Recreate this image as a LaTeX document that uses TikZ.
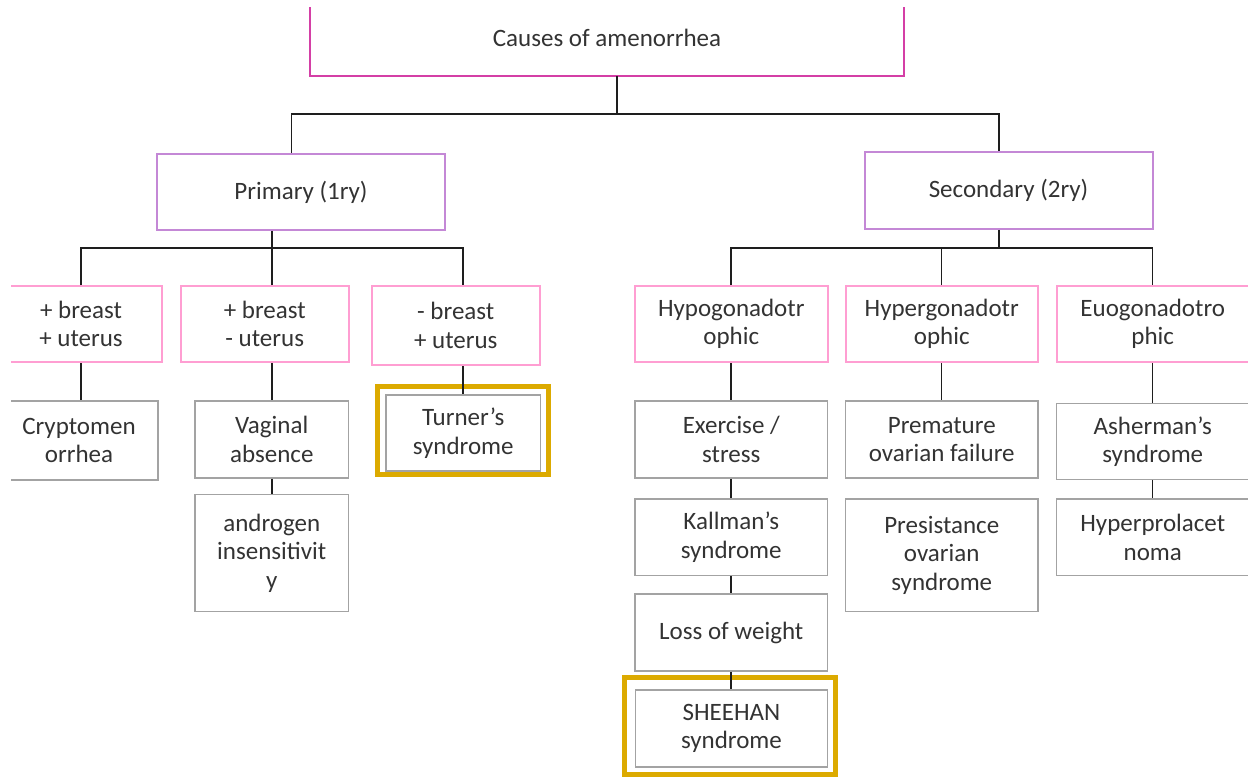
\documentclass[tikz,border=0pt]{standalone}
\usepackage{fontspec}
\setmainfont{Carlito}
\definecolor{txt}{HTML}{333333}
\definecolor{magc}{HTML}{D43FA6}
\definecolor{violc}{HTML}{C488D6}
\definecolor{pinkc}{HTML}{FF9ED2}
\definecolor{greyc}{HTML}{A3A3A3}
\definecolor{goldc}{HTML}{DCAA00}
\definecolor{linec}{HTML}{1E1E1E}
\newcommand{\fsz}{\fontsize{25}{28.5}\selectfont}
\newcommand{\bx}[7]{\node[#2, minimum width={(#5-#3)*1pt}, minimum height={(#6-#4)*1pt}] (#1) at ({(#3+#5)/2},{(#4+#6)/2}) {#7};}
\tikzset{
  base/.style={rectangle, inner sep=0pt, align=center, text=txt, font=\fsz},
  greybox/.style={base, draw=greyc, line width=1.5pt},
  pinkbox/.style={base, draw=pinkc, line width=2pt},
  violbox/.style={base, draw=violc, line width=2pt},
  topbox/.style={base},
  goldbox/.style={rectangle, draw=goldc, line width=5pt, inner sep=0pt},
  conn/.style={draw=linec, line width=1.9pt},
}
\begin{document}
\begin{tikzpicture}[x=1pt,y=-1pt]
\useasboundingbox (0,0) rectangle (1248,778);
\clip (11,8) rectangle (1248,778);
% top
\bx{top}{topbox}{310}{0}{904}{76}{Causes of amenorrhea}
\draw[magc, line width=2pt] (top.north west) -- (top.south west) -- (top.south east) -- (top.north east);
% level 1
\bx{prim}{violbox}{157}{154}{445}{230}{Primary (1ry)}
\bx{sec}{violbox}{864.5}{152}{1152.5}{229}{Secondary (2ry)}
% level 2
\bx{b1}{pinkbox}{0}{286}{162}{362}{+ breast\\+ uterus}
\bx{b2}{pinkbox}{180.5}{286}{349}{362}{+ breast\\- uterus}
\bx{b3}{pinkbox}{371.5}{286}{540}{365}{- breast\\+ uterus}
\bx{hypo}{pinkbox}{635}{286}{827.5}{362}{Hypogonadotr\\ophic}
\bx{hyper}{pinkbox}{845.5}{286}{1038}{362}{Hypergonadotr\\ophic}
\bx{eu}{pinkbox}{1056.5}{286}{1249}{362}{Euogonadotro\\phic}
% level 3 left
\bx{crypto}{greybox}{0}{401}{158}{480}{Cryptomen\\orrhea}
\bx{vag}{greybox}{195}{401}{348.5}{478}{Vaginal\\absence}
\bx{andro}{greybox}{195}{494.5}{348.5}{611.5}{androgen\\insensitivit\\y}
\bx{turner}{greybox}{386}{395}{540.5}{471}{Turner’s\\syndrome}
\bx{turnerG}{goldbox}{377.8}{386.8}{548.2}{474.8}{}
% level 3 right
\bx{exer}{greybox}{635}{401}{827.5}{478}{Exercise /\\stress}
\bx{kall}{greybox}{635}{499}{827.5}{575.5}{Kallman’s\\syndrome}
\bx{loss}{greybox}{635}{594}{827.5}{671}{Loss of weight}
\bx{sheehan}{greybox}{635.5}{690}{827.5}{767}{SHEEHAN\\syndrome}
\bx{sheehanG}{goldbox}{624.2}{677.2}{835.8}{774.2}{}
\bx{prem}{greybox}{845.5}{401}{1038}{478}{Premature\\ovarian failure}
\bx{pres}{greybox}{845.5}{499}{1038}{611.5}{Presistance\\ovarian\\syndrome}
\bx{asher}{greybox}{1056.5}{403.5}{1249}{479.5}{Asherman’s\\syndrome}
\bx{hyperp}{greybox}{1056.5}{499}{1249}{575.5}{Hyperprolacet\\noma}
% junction coordinates
\coordinate (j0) at (617,114);
\coordinate (cP) at (291.5,114);
\coordinate (cS) at (999,114);
\coordinate (cPd) at (272,248);
\coordinate (cA) at (81,248);
\coordinate (cC) at (463,248);
\coordinate (cSd) at (999,248);
\coordinate (cH) at (730.6,248);
\coordinate (cR) at (941.5,248);
\coordinate (cE) at (1152.5,248);
% connectors
\draw[conn] (top.south -| j0) -- (j0);
\draw[conn] (prim.north -| cP) -- (cP) -- (cS) -- (sec.north -| cS);
\draw[conn] (prim.south -| cPd) -- (cPd);
\draw[conn] (b1.north -| cA) -- (cA) -- (cC) -- (b3.north -| cC);
\draw[conn] (b2.north -| cPd) -- (cPd);
\draw[conn] (sec.south -| cSd) -- (cSd);
\draw[conn] (hypo.north -| cH) -- (cH) -- (cE) -- (eu.north -| cE);
\draw[conn] (hyper.north -| cR) -- (cR);
\draw[conn] (b1.south -| cA) -- (crypto.north -| cA);
\draw[conn] (b2.south -| cPd) -- (vag.north -| cPd);
\draw[conn] (vag.south -| cPd) -- (andro.north -| cPd);
\draw[conn] (b3.south -| cC) -- (turner.north -| cC);
\draw[conn] (hypo.south -| cH) -- (exer.north -| cH);
\draw[conn] (exer.south -| cH) -- (kall.north -| cH);
\draw[conn] (kall.south -| cH) -- (loss.north -| cH);
\draw[conn] (loss.south -| cH) -- (sheehan.north -| cH);
\draw[conn] (hyper.south -| cR) -- (prem.north -| cR);
\draw[conn] (eu.south -| cE) -- (asher.north -| cE);
\draw[conn] (asher.south -| cE) -- (hyperp.north -| cE);
\end{tikzpicture}
\end{document}
